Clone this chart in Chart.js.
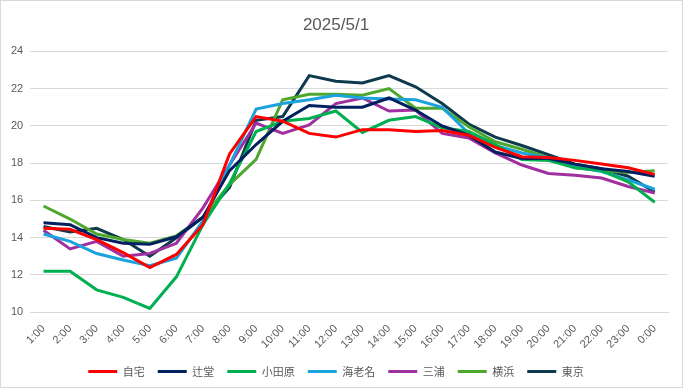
<!DOCTYPE html>
<html>
<head>
<meta charset="utf-8">
<script src="https://cdn.jsdelivr.net/npm/chart.js@4"></script>
<style>
  html, body { margin: 0; padding: 0; background: #fff; }
  #wrap { width: 683px; height: 388px; box-sizing: border-box; border: 1px solid #d9d9d9; }
</style>
</head>
<body>
<div id="wrap"><canvas id="TempChart"></canvas></div>
<script>
const hours = ['1:00', '2:00', '3:00', '4:00', '5:00', '6:00', '7:00', '8:00', '9:00', '10:00', '11:00', '12:00',
  '13:00', '14:00', '15:00', '16:00', '17:00', '18:00', '19:00', '20:00', '21:00', '22:00', '23:00', '0:00'];

const jitaku = [14.5, 14.45, 13.9, 13.2, 12.4, 13.1, 14.7, 18.5, 20.5, 20.25, 19.6, 19.4, 19.8, 19.8, 19.7, 19.75, 19.5, 18.85, 18.35, 18.3, 18.15, 17.95, 17.75, 17.4];
const tsujido = [14.8, 14.7, 14.0, 13.7, 13.65, 14.05, 15.1, 17.6, 19.0, 20.25, 21.1, 21.0, 21.0, 21.5, 20.85, 20.0, 19.5, 18.6, 18.25, 18.25, 17.95, 17.7, 17.55, 17.3];
const odawara = [12.2, 12.2, 11.2, 10.8, 10.2, 11.9, 14.7, 16.9, 19.7, 20.25, 20.4, 20.8, 19.65, 20.3, 20.5, 19.9, 19.7, 19.0, 18.2, 18.15, 17.75, 17.6, 17.0, 15.9];
const ebina = [14.2, 13.8, 13.15, 12.8, 12.5, 12.9, 14.9, 17.9, 20.9, 21.2, 21.4, 21.65, 21.5, 21.45, 21.4, 21.0, 19.6, 18.95, 18.55, 18.3, 17.8, 17.55, 17.1, 16.6];
const miura = [14.4, 13.4, 13.8, 13.0, 13.15, 13.7, 15.6, 17.9, 20.15, 19.6, 20.05, 21.2, 21.5, 20.8, 20.85, 19.6, 19.35, 18.55, 17.9, 17.45, 17.35, 17.2, 16.75, 16.4];
const yokohama = [15.7, 15.0, 14.2, 13.9, 13.7, 14.1, 15.1, 16.85, 18.2, 21.4, 21.7, 21.7, 21.65, 22.0, 20.95, 20.95, 19.95, 19.15, 18.75, 18.3, 17.75, 17.6, 17.5, 17.6];
const tokyo = [14.6, 14.3, 14.5, 13.9, 13.0, 14.0, 15.1, 16.7, 20.3, 20.5, 22.7, 22.4, 22.3, 22.7, 22.1, 21.2, 20.1, 19.4, 18.95, 18.45, 17.95, 17.7, 17.3, 16.45];

const font = '"Liberation Sans", "Noto Sans CJK JP", sans-serif';

function series(label, data, color) {
  return {
    label: label,
    data: data,
    borderColor: color,
    backgroundColor: color,
    borderWidth: 3,
    pointRadius: 0,
    tension: 0,
    fill: false
  };
}

new Chart(document.getElementById('TempChart'), {
  type: 'line',
  data: {
    labels: hours,
    datasets: [
      series('自宅', jitaku, '#ff0000'),
      series('辻堂', tsujido, '#002060'),
      series('小田原', odawara, '#00b050'),
      series('海老名', ebina, '#1aa3dd'),
      series('三浦', miura, '#a0309f'),
      series('横浜', yokohama, '#4ea72e'),
      series('東京', tokyo, '#0e3a4e')
    ]
  },
  options: {
    responsive: true,
    maintainAspectRatio: false,
    animation: false,
    layout: { padding: { left: 3, right: 14, top: 12, bottom: 0 } },
    plugins: {
      title: {
        display: true,
        text: '2025/5/1',
        color: '#595959',
        font: { family: font, size: 17, weight: 'normal' },
        padding: { top: 2, bottom: 16 }
      },
      legend: {
        position: 'bottom',
        labels: {
          usePointStyle: true,
          pointStyle: 'line',
          pointStyleWidth: 29,
          color: '#595959',
          font: { family: '"Noto Sans CJK JP", sans-serif', size: 11 },
          padding: 13
        }
      },
      tooltip: { enabled: false }
    },
    scales: {
      x: {
        offset: true,
        grid: { display: false },
        border: { color: '#d9d9d9' },
        ticks: {
          color: '#595959',
          font: { family: font, size: 11 },
          minRotation: 45,
          maxRotation: 45,
          autoSkip: false,
          padding: 2
        }
      },
      y: {
        min: 10,
        max: 24,
        grid: { color: '#d9d9d9', drawTicks: false },
        border: { display: false },
        ticks: {
          stepSize: 2,
          color: '#595959',
          font: { family: font, size: 11 },
          padding: 7
        }
      }
    }
  }
});
</script>
</body>
</html>
